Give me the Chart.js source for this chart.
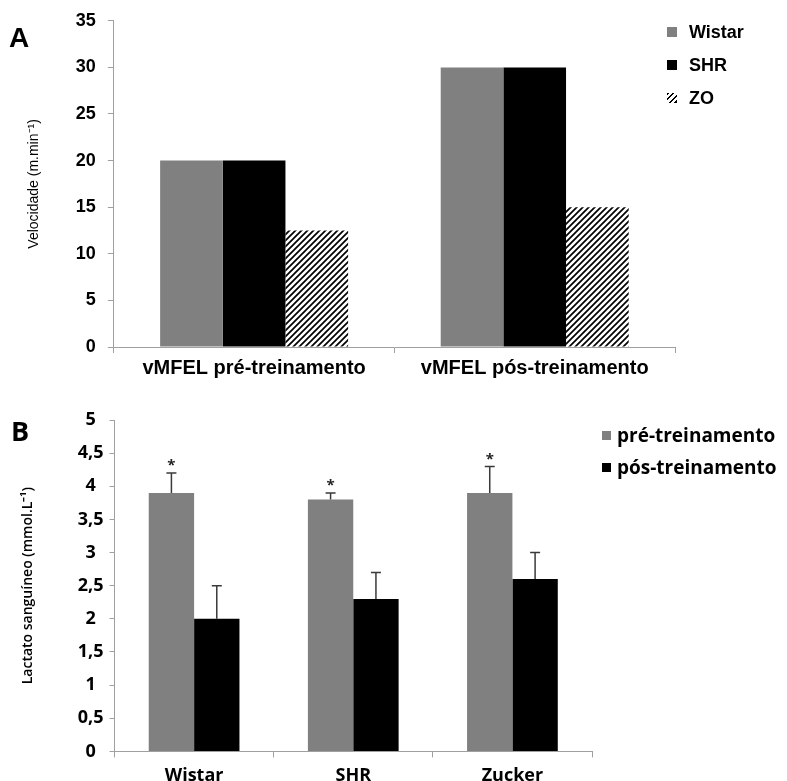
<!DOCTYPE html>
<html><head><meta charset="utf-8">
<script src="https://cdn.jsdelivr.net/npm/chart.js@4.4.0/dist/chart.umd.min.js"></script>
<style>
html,body{margin:0;padding:0;background:#fff;width:787px;height:781px;overflow:hidden;position:relative}
#ca{position:absolute;left:0;top:-2px}
#cb{position:absolute;left:0;top:390px}
.panel{position:absolute;font-weight:bold;color:#000;line-height:1}
.leg{position:absolute;display:flex;align-items:center;white-space:nowrap;font-weight:bold;color:#000;line-height:1}
.sw{display:inline-block;flex:none}
</style></head><body>
<canvas id="ca" width="787" height="387"></canvas>
<canvas id="cb" width="787" height="409"></canvas>
<div class="panel" style="left:9px;top:22px;font:bold 28px 'Liberation Sans',Arial,sans-serif">A</div>
<div class="panel" style="left:11px;top:412px;font:bold 27px 'Open Sans',sans-serif">B</div>
<div id="legA"></div>
<div id="legB"></div>
<script>
// ---------- DATA ----------
const categoriesA = ['vMFEL pré-treinamento', 'vMFEL pós-treinamento'];
const seriesNamesA = ['Wistar', 'SHR', 'ZO'];
const wistarA = [20, 30];
const shrA = [20, 30];
const zoA = [12.5, 15];
const yTicksA = [0, 5, 10, 15, 20, 25, 30, 35];

const categoriesB = ['Wistar', 'SHR', 'Zucker'];
const seriesNamesB = ['pré-treinamento', 'pós-treinamento'];
const preB = [3.9, 3.8, 3.9];
const postB = [2.0, 2.3, 2.6];
const preErrB = [0.3, 0.1, 0.4];
const postErrB = [0.5, 0.4, 0.4];
const preSigB = ['*', '*', '*'];
const postSigB = ['', '', ''];
const yTickValuesB = [0, 0.5, 1, 1.5, 2, 2.5, 3, 3.5, 4, 4.5, 5];
const yTickLabelsB = ['0', '0,5', '1', '1,5', '2', '2,5', '3', '3,5', '4', '4,5', '5'];

// ---------- STYLE ----------
const GRAY = '#808080', BLACK = '#000000', AXIS = '#a0a0a0';
const fontA = "'Liberation Sans', Arial, sans-serif";
const fontB = "'Open Sans', sans-serif";

function hatchPattern() {
  const c = document.createElement('canvas'); c.width = 6; c.height = 6;
  const g = c.getContext('2d');
  g.fillStyle = '#fff'; g.fillRect(0, 0, 6, 6);
  g.strokeStyle = '#000'; g.lineWidth = 1.7;
  g.beginPath();
  g.moveTo(0, 6); g.lineTo(6, 0);
  g.moveTo(-1, 1); g.lineTo(1, -1);
  g.moveTo(5, 7); g.lineTo(7, 5);
  g.stroke();
  return g.createPattern(c, 'repeat');
}
const HATCH = hatchPattern();

const errorBarPlugin = {
  id: 'errbars',
  afterDatasetsDraw(chart) {
    const ctx = chart.ctx, ys = chart.scales.y;
    chart.data.datasets.forEach((ds, i) => {
      if (!ds.errors) return;
      const meta = chart.getDatasetMeta(i);
      meta.data.forEach((bar, j) => {
        const v = ds.data[j], e = ds.errors[j];
        const yTop = ys.getPixelForValue(v + e);
        ctx.save();
        ctx.strokeStyle = '#3a3a3a'; ctx.lineWidth = 1.5;
        ctx.beginPath();
        ctx.moveTo(bar.x, bar.y); ctx.lineTo(bar.x, yTop);
        ctx.moveTo(bar.x - 5, yTop); ctx.lineTo(bar.x + 5, yTop);
        ctx.stroke();
        if (ds.marks && ds.marks[j]) {
          ctx.fillStyle = '#222'; ctx.font = "bold 15px " + fontB;
          ctx.textAlign = 'center'; ctx.textBaseline = 'middle';
          ctx.fillText(ds.marks[j], bar.x, yTop - 7);
        }
        ctx.restore();
      });
    });
  }
};

// ---------- CHART A ----------
const dsColorsA = [GRAY, BLACK, HATCH];
new Chart(document.getElementById('ca'), {
  type: 'bar',
  data: {
    labels: categoriesA,
    datasets: [
      { label: seriesNamesA[0], data: wistarA, backgroundColor: GRAY },
      { label: seriesNamesA[1], data: shrA, backgroundColor: BLACK },
      { label: seriesNamesA[2], data: zoA, backgroundColor: HATCH }
    ]
  },
  options: {
    responsive: false, animation: false,
    datasets: { bar: { categoryPercentage: 0.67, barPercentage: 1.0, borderWidth: 0 } },
    layout: { padding: { top: 16, left: 18, right: 112, bottom: 2 } },
    plugins: { legend: { display: false }, tooltip: { enabled: false } },
    scales: {
      x: {
        grid: { display: true, drawOnChartArea: false, drawTicks: true, tickLength: 6, color: AXIS, offset: true },
        border: { color: AXIS, width: 1 },
        ticks: { color: '#000', padding: 3, font: { family: fontA, weight: 'bold', size: 20 } }
      },
      y: {
        min: 0, max: 35,
        afterBuildTicks: (ax) => { ax.ticks = yTicksA.map(v => ({ value: v })); },
        grid: { drawOnChartArea: false, drawTicks: true, tickLength: 6, color: AXIS },
        border: { color: AXIS, width: 1 },
        ticks: { color: '#000', padding: 12, font: { family: fontA, weight: 'bold', size: 18 } },
        title: { display: true, text: 'Velocidade (m.min⁻¹)', color: '#000', padding: { top: 8, bottom: 21 },
                 font: { family: fontA, size: 14 } }
      }
    }
  }
});

// ---------- CHART B ----------
new Chart(document.getElementById('cb'), {
  type: 'bar',
  data: {
    labels: categoriesB,
    datasets: [
      { label: seriesNamesB[0], data: preB, errors: preErrB, marks: preSigB, backgroundColor: GRAY },
      { label: seriesNamesB[1], data: postB, errors: postErrB, marks: postSigB, backgroundColor: BLACK }
    ]
  },
  options: {
    responsive: false, animation: false,
    datasets: { bar: { categoryPercentage: 0.57, barPercentage: 1.0, borderWidth: 0 } },
    layout: { padding: { top: 30, left: 14, right: 195, bottom: 4 } },
    plugins: { legend: { display: false }, tooltip: { enabled: false } },
    scales: {
      x: {
        grid: { display: true, drawOnChartArea: false, drawTicks: true, tickLength: 6, color: AXIS, offset: true },
        border: { color: AXIS, width: 1 },
        ticks: { color: '#000', padding: 8, font: { family: fontB, weight: 'bold', size: 18 } }
      },
      y: {
        min: 0, max: 5,
        afterBuildTicks: (ax) => { ax.ticks = yTickValuesB.map(v => ({ value: v })); },
        grid: { drawOnChartArea: false, drawTicks: true, tickLength: 5, color: AXIS },
        border: { color: AXIS, width: 1 },
        ticks: { color: '#000', padding: 6, crossAlign: 'center',
                 callback: (val, idx) => yTickLabelsB[idx],
                 font: { family: fontB, weight: 'bold', size: 18 } },
        title: { display: true, text: 'Lactato sanguíneo (mmol.L⁻¹)', color: '#000', padding: { top: 6, bottom: 35 },
                 font: { family: fontB, weight: '600', size: 14 } }
      }
    }
  },
  plugins: [errorBarPlugin]
});

// ---------- LEGENDS (HTML) ----------
function swatch(fill, size) {
  const s = document.createElement('span'); s.className = 'sw';
  s.style.width = size + 'px'; s.style.height = size + 'px';
  if (fill === HATCH) s.style.background = 'repeating-linear-gradient(135deg,#000 0 1.5px,#fff 1.5px 4px)';
  else s.style.background = fill;
  return s;
}
function makeLegend(host, names, fills, x, y0, step, size, gap, font) {
  names.forEach((n, i) => {
    const d = document.createElement('div'); d.className = 'leg';
    d.style.left = x + 'px'; d.style.top = (y0 + i * step) + 'px'; d.style.font = font;
    d.style.height = '20px';
    d.appendChild(swatch(fills[i], size));
    const t = document.createElement('span'); t.textContent = n; t.style.marginLeft = gap + 'px';
    d.appendChild(t); document.getElementById(host).appendChild(d);
  });
}
makeLegend('legA', seriesNamesA, dsColorsA, 667, 22, 33, 10, 12, "bold 18px " + fontA);
makeLegend('legB', seriesNamesB, [GRAY, BLACK], 602, 425, 32, 9, 6, "bold 19px " + fontB);
</script>
</body></html>
